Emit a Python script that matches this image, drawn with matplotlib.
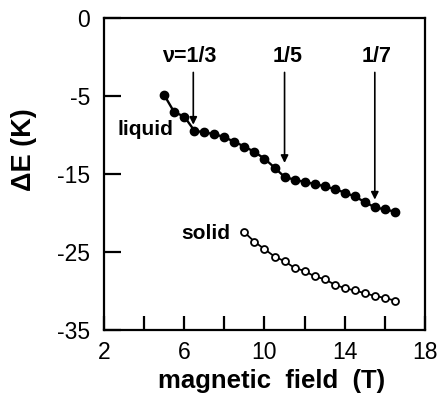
import matplotlib
matplotlib.use('Agg')
import matplotlib.pyplot as plt

plt.rcParams['font.family'] = ['Liberation Sans', 'DejaVu Sans']

# liquid (filled) data
liquid_B = [5.0, 5.5, 6.0, 6.5, 7.0, 7.5, 8.0, 8.5, 9.0, 9.5, 10.0, 10.5,
            11.0, 11.5, 12.0, 12.5, 13.0, 13.5, 14.0, 14.5, 15.0, 15.5, 16.0, 16.5]
liquid_E = [-4.9, -7.1, -7.65, -9.45, -9.7, -9.9, -10.3, -10.9, -11.5, -12.2, -13.05, -14.2,
            -15.4, -15.75, -16.05, -16.3, -16.6, -16.95, -17.4, -17.9, -18.6, -19.3, -19.55, -19.85]

# solid (open) data
solid_B = [9.0, 9.5, 10.0, 10.5, 11.0, 11.5, 12.0, 12.5, 13.0, 13.5, 14.0, 14.5,
           15.0, 15.5, 16.0, 16.5]
solid_E = [-22.5, -23.7, -24.65, -25.6, -26.2, -27.05, -27.45, -28.15, -28.5, -29.2, -29.65, -29.95,
           -30.3, -30.65, -30.9, -31.25]

# filling factor arrows
nu_labels = ['\u03bd=1/3', '1/5', '1/7']
nu_B = [6.45, 11.0, 15.5]
nu_label_B = [6.25, 11.15, 15.6]
nu_arrow_end = [-8.7, -13.6, -18.3]

# y axis: ticks evenly spaced, labelled as in the original figure
ytick_pos = [5, -5, -15, -25, -35]
ytick_lab = ['0', '-5', '-15', '-25', '-35']

fig = plt.figure(figsize=(4.39, 3.96), dpi=100)
ax = fig.add_axes([0.237, 0.167, 0.731, 0.788])

ax.plot(liquid_B, liquid_E, '-o', color='black', lw=1.7, ms=6, mfc='black')
ax.plot(solid_B, solid_E, '-o', color='black', lw=1.3, ms=5, mfc='white', mew=1.3)

for lab, b, bl, e in zip(nu_labels, nu_B, nu_label_B, nu_arrow_end):
    ax.annotate('', xy=(b, e), xytext=(b, -2.0),
                arrowprops=dict(arrowstyle='-|>', color='black', lw=1.2,
                                mutation_scale=11, shrinkA=0, shrinkB=0))
    ax.text(bl, 0.0, lab, ha='center', va='center', fontsize=15.5, fontweight='bold')

ax.text(5.44, -9.3, 'liquid', ha='right', va='center', fontsize=15, fontweight='bold')
ax.text(8.28, -22.7, 'solid', ha='right', va='center', fontsize=15, fontweight='bold')

ax.set_xlim(2, 18)
ax.set_ylim(-35, 5)
ax.set_xticks(range(2, 19, 2))
ax.set_xticklabels(['2', '', '6', '', '10', '', '14', '', '18'])
ax.set_yticks(ytick_pos)
ax.set_yticklabels(ytick_lab)
ax.tick_params(direction='in', length=10, width=1.6, labelsize=16.5)
ax.tick_params(axis='x', pad=8)
ax.tick_params(axis='y', length=12, pad=10)
for s in ax.spines.values():
    s.set_linewidth(1.6)

ax.set_xlabel('magnetic  field  (T)', fontsize=18.5, fontweight='bold')
ax.set_ylabel('\u0394E (K)', fontsize=19.5, fontweight='bold')
ax.xaxis.set_label_coords(0.523, -0.125)
ax.yaxis.set_label_coords(-0.209, 0.577)

fig.savefig('out.png', dpi=100)
